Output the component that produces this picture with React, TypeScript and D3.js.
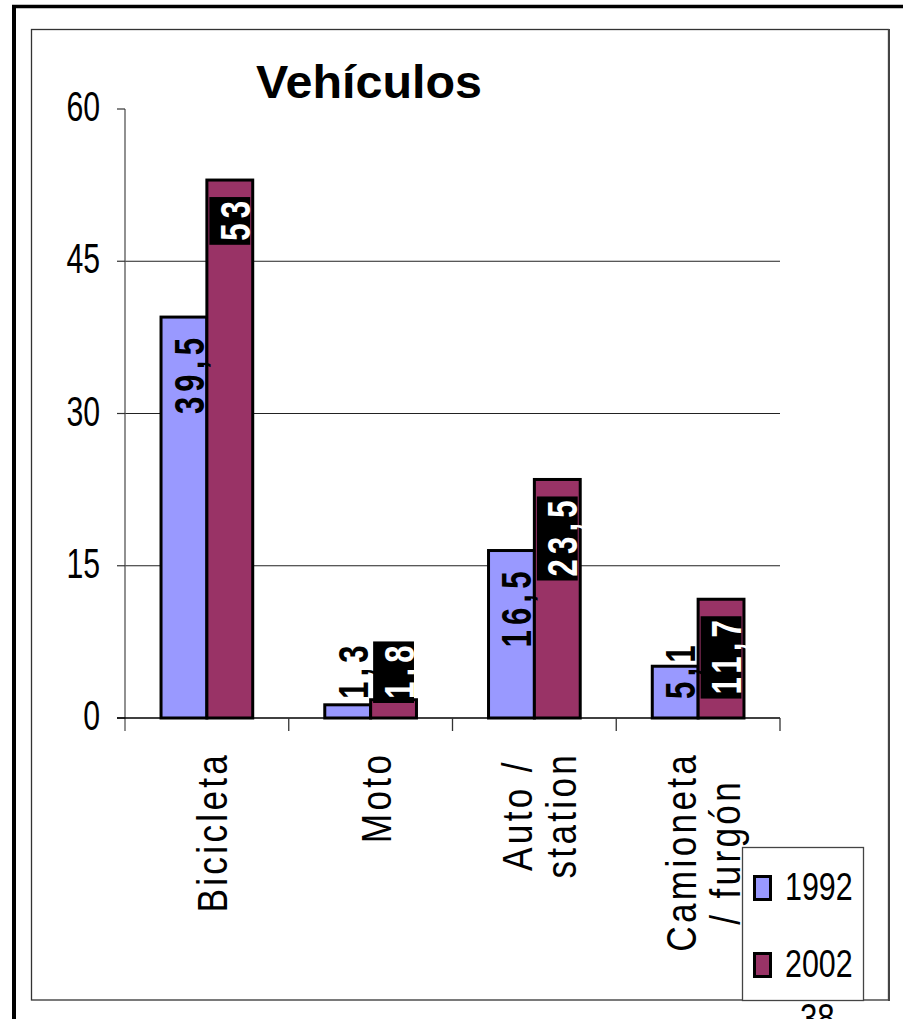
import React from "react";
import * as d3 from "d3";

const title = "Vehículos";
const categories = ["Bicicleta", "Moto", "Auto /\nstation", "Camioneta\n/ furgón"];
const seriesNames = ["1992", "2002"];
const values1992 = [39.5, 1.3, 16.5, 5.1];
const values2002 = [53, 1.8, 23.5, 11.7];
const yTicks = [0, 15, 30, 45, 60];
const pageNumber = "38";

const colors = ["#9999FF", "#993366"];
const FONT = '"Liberation Sans", Arial, Helvetica, sans-serif';

const W = 903;
const H = 1019;
const plot = { left: 125, right: 780, top: 109, bottom: 718 };

let _ctx: CanvasRenderingContext2D | null = null;
function measure(text: string, font: string): number {
  if (!_ctx) _ctx = document.createElement("canvas").getContext("2d");
  if (!_ctx) return text.length * 20;
  _ctx.font = font;
  return _ctx.measureText(text).width;
}

export default function App() {
  const series = [values1992, values2002];
  const x0 = d3
    .scaleBand<string>()
    .domain(categories)
    .range([plot.left, plot.right])
    .paddingInner(0.44)
    .paddingOuter(0.22);
  const x1 = d3.scaleBand<string>().domain(seriesNames).range([0, x0.bandwidth()]).padding(0);
  const y = d3.scaleLinear().domain([0, 60]).range([plot.bottom, plot.top]);
  const fmt = (v: number) => String(v).replace(".", ",");

  // data labels: bold, condensed glyphs, spaced letters
  const labelFs = 42;
  const labelSx = 0.74;
  const labelLs = 7;
  const labelFont = `bold ${labelFs}px "Liberation Sans"`;
  const labelLen = (s: string) => labelSx * (measure(s, labelFont) + labelLs * (s.length - 1));

  // category labels
  const catFs = 43;
  const catSx = 0.82;
  const catLs = 4;
  const catFont = `${catFs}px "Liberation Sans"`;
  const catLen = (s: string) => catSx * (measure(s, catFont) + catLs * (s.length - 1));

  const boundaries = categories.map((_, i) => plot.left + x0.step() * (i + 1));

  return (
    <svg
      width={W}
      height={H}
      style={{ position: "absolute", left: 0, top: 0, display: "block", background: "#fff" }}
      fontFamily={FONT}
    >
      <rect x={0} y={0} width={W} height={H} fill="#fff" />
      {/* outer thick border */}
      <line x1={14} y1={5} x2={14} y2={H} stroke="#000" strokeWidth={4} />
      <line x1={12} y1={6.5} x2={W} y2={6.5} stroke="#000" strokeWidth={3.5} />
      {/* inner frame */}
      <rect x={31.5} y={29.5} width={857} height={970.5} fill="none" stroke="#333" strokeWidth={1.3} />
      <line x1={889} y1={29} x2={889} y2={1001} stroke="#444" strokeWidth={2} />

      {/* title */}
      <text x={256} y={98} fontSize={47} fontWeight="bold" fill="#000" textLength={226} lengthAdjust="spacingAndGlyphs">
        {title}
      </text>

      {/* gridlines */}
      {yTicks
        .filter((t) => t > 0 && t < 60)
        .map((t) => (
          <line key={"g" + t} x1={plot.left} x2={plot.right} y1={y(t)} y2={y(t)} stroke="#222" strokeWidth={1} />
        ))}

      {/* y axis */}
      <line x1={plot.left} x2={plot.left} y1={y(60)} y2={plot.bottom + 13} stroke="#555" strokeWidth={1.3} />
      {yTicks.map((t) => (
        <g key={"t" + t}>
          <line x1={117} x2={plot.left} y1={y(t)} y2={y(t)} stroke="#333" strokeWidth={1.2} />
          <text
            transform={`translate(100,${y(t) + 12}) scale(0.72,1)`}
            textAnchor="end"
            fontSize={42}
            fill="#000"
          >
            {t}
          </text>
        </g>
      ))}

      {/* bars */}
      {categories.map((c, i) =>
        seriesNames.map((s, j) => {
          const v = series[j][i];
          const bx = (x0(c) as number) + (x1(s) as number);
          return (
            <rect
              key={c + s}
              x={bx}
              y={y(v)}
              width={x1.bandwidth()}
              height={plot.bottom - y(v)}
              fill={colors[j]}
              stroke="#000"
              strokeWidth={3}
            />
          );
        })
      )}

      {/* x axis */}
      <line x1={117} x2={plot.right} y1={plot.bottom} y2={plot.bottom} stroke="#000" strokeWidth={1.5} />
      {boundaries.map((bx, i) => (
        <line key={"xb" + i} x1={bx} x2={bx} y1={plot.bottom} y2={plot.bottom + 13} stroke="#333" strokeWidth={1.3} />
      ))}

      {/* data labels */}
      {categories.map((c, i) =>
        seriesNames.map((s, j) => {
          const v = series[j][i];
          const label = fmt(v);
          const bx = (x0(c) as number) + (x1(s) as number);
          const bw = x1.bandwidth();
          const cx = bx + bw / 2;
          const len = labelLen(label);
          const boxLen = len + 8;
          const boxTop = Math.min(y(v) + 17, plot.bottom - 15 - boxLen);
          return (
            <g key={"l" + c + s}>
              {j === 1 && (
                <rect x={cx - (bw - 5) / 2} y={boxTop} width={bw - 5} height={boxLen} fill="#000" />
              )}
              <text
                transform={`translate(${cx + 20},${boxTop + boxLen - 4}) rotate(-90) scale(${labelSx},1)`}
                textAnchor="start"
                fontSize={labelFs}
                fontWeight="bold"
                letterSpacing={labelLs}
                fill={j === 1 ? "#fff" : "#000"}
              >
                {label}
              </text>
            </g>
          );
        })
      )}

      {/* category labels */}
      {categories.map((c) => {
        const lines = c.split("\n");
        const cx = (x0(c) as number) + x0.bandwidth() / 2;
        const maxLen = d3.max(lines, (l) => catLen(l)) as number;
        const midY = 755 + maxLen / 2;
        return (
          <g key={"c" + c}>
            {lines.map((l, k) => {
              const len = catLen(l);
              return (
                <text
                  key={k}
                  transform={`translate(${cx + 20 + (k - (lines.length - 1) / 2) * 44},${midY + len / 2}) rotate(-90) scale(${catSx},1)`}
                  textAnchor="start"
                  fontSize={catFs}
                  letterSpacing={catLs}
                  fill="#000"
                >
                  {l}
                </text>
              );
            })}
          </g>
        );
      })}

      {/* legend */}
      <rect x={742.5} y={847.5} width={121} height={153} fill="#fff" stroke="#444" strokeWidth={1.3} />
      {seriesNames.map((s, j) => (
        <g key={"lg" + s}>
          <rect x={754.5} y={876.5 + j * 77} width={16} height={23} fill={colors[j]} stroke="#000" strokeWidth={3} />
          <text
            transform={`translate(785,${900 + j * 77}) scale(0.78,1)`}
            fontSize={39}
            fill="#000"
          >
            {s}
          </text>
        </g>
      ))}

      {/* page number */}
      <text transform={`translate(800,1032) scale(0.78,1)`} fontSize={40} fill="#000">
        {pageNumber}
      </text>
    </svg>
  );
}
